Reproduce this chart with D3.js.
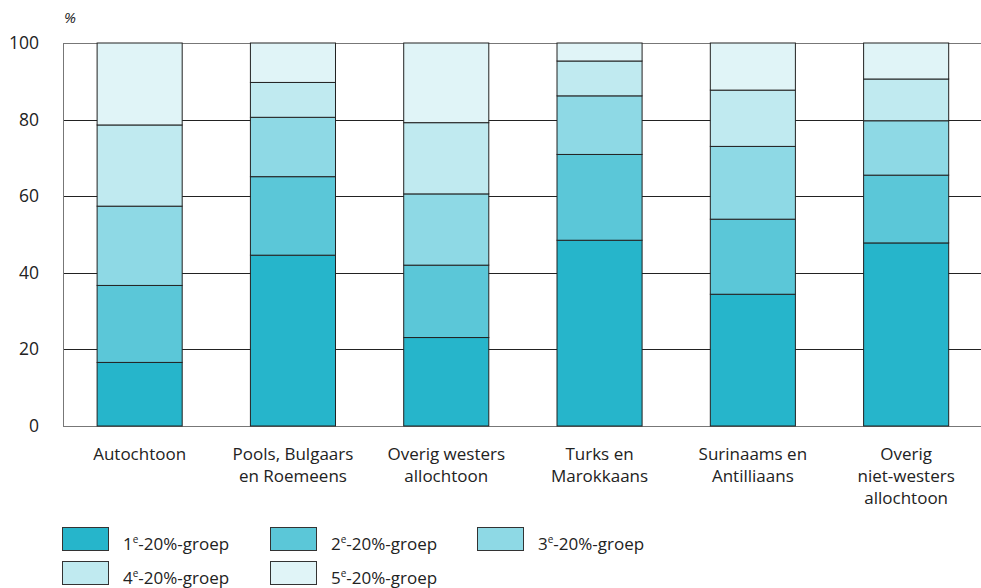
<!DOCTYPE html>
<html>
<head>
<meta charset="utf-8">
<script src="https://cdn.jsdelivr.net/npm/d3@7"></script>
<style>
  body { margin: 0; background: #fff; }
  text { font-family: "Open Sans", "Noto Sans", sans-serif; fill: #222; }
</style>
</head>
<body>
<div id="chart"></div>
<script>
// categories (lines of each label)
var categories = [
  ["Autochtoon"],
  ["Pools, Bulgaars", "en Roemeens"],
  ["Overig westers", "allochtoon"],
  ["Turks en", "Marokkaans"],
  ["Surinaams en", "Antilliaans"],
  ["Overig", "niet-westers", "allochtoon"]
];

// share per income group (%)
var groep1 = [16.6, 44.6, 23.1, 48.5, 34.4, 47.8];
var groep2 = [20.1, 20.5, 18.9, 22.4, 19.6, 17.7];
var groep3 = [20.7, 15.5, 18.6, 15.3, 19.0, 14.2];
var groep4 = [21.2, 9.1, 18.6, 9.1, 14.7, 10.9];
var groep5 = [21.4, 10.3, 20.8, 4.7, 12.3, 9.4];

var seriesNames = ["1", "2", "3", "4", "5"];
var colors = ["#26b5cb", "#5bc7d8", "#8ed9e5", "#c0eaf0", "#e0f4f7"];
var yTicks = [0, 20, 40, 60, 80, 100];

var width = 981, height = 588;
var margin = { left: 63, top: 43, bottom: 162 };
var plotBottom = height - margin.bottom; // 426

var svg = d3.select("#chart").append("svg")
  .attr("width", width)
  .attr("height", height);

// table for the stack
var rows = categories.map(function (c, i) {
  return { i: i, g1: groep1[i], g2: groep2[i], g3: groep3[i], g4: groep4[i], g5: groep5[i] };
});
var keys = ["g1", "g2", "g3", "g4", "g5"];
var stacked = d3.stack().keys(keys)(rows);

var x = d3.scaleBand()
  .domain(d3.range(categories.length))
  .range([margin.left, margin.left + 153.3 * categories.length])
  .paddingInner(0.445)
  .paddingOuter(0.2225);

var y = d3.scaleLinear()
  .domain([0, 100])
  .range([plotBottom, margin.top]);

// gridlines
svg.append("g").selectAll("line")
  .data(yTicks)
  .enter().append("line")
  .attr("x1", margin.left)
  .attr("x2", width)
  .attr("y1", function (d) { return Math.round(y(d)) + 0.5; })
  .attr("y2", function (d) { return Math.round(y(d)) + 0.5; })
  .attr("stroke", function (d) { return (d === 0 || d === 100) ? "#777" : "#222"; })
  .attr("stroke-width", 1);

// left axis line
svg.append("line")
  .attr("x1", margin.left + 0.5).attr("x2", margin.left + 0.5)
  .attr("y1", y(100)).attr("y2", y(0))
  .attr("stroke", "#777");

// tick labels
svg.append("g").selectAll("text")
  .data(yTicks)
  .enter().append("text")
  .attr("x", 39)
  .attr("y", function (d) { return y(d) + 6; })
  .attr("text-anchor", "end")
  .style("font-size", "17.5px")
  .text(function (d) { return d; });

svg.append("text")
  .attr("x", 64).attr("y", 23)
  .style("font-size", "15px")
  .style("font-style", "italic")
  .text("%");

// bars
svg.append("g").selectAll("g")
  .data(stacked)
  .enter().append("g")
  .attr("fill", function (d, k) { return colors[k]; })
  .selectAll("rect")
  .data(function (d) { return d; })
  .enter().append("rect")
  .attr("x", function (d) { return x(d.data.i); })
  .attr("y", function (d) { return y(d[1]); })
  .attr("width", x.bandwidth())
  .attr("height", function (d) { return y(d[0]) - y(d[1]); })
  .attr("stroke", "#222")
  .attr("stroke-width", 1);

// category labels
var catG = svg.append("g").selectAll("text")
  .data(categories)
  .enter().append("text")
  .attr("text-anchor", "middle")
  .style("font-size", "17px")
  .attr("x", function (d, i) { return x(i) + x.bandwidth() / 2; })
  .attr("y", 460);
catG.selectAll("tspan")
  .data(function (d) { return d; })
  .enter().append("tspan")
  .attr("x", function () { return d3.select(this.parentNode).attr("x"); })
  .attr("dy", function (d, j) { return j === 0 ? 0 : 22; })
  .text(function (d) { return d; });

// legend
var legendPos = [[62, 527], [270, 527], [477, 527], [62, 561], [270, 561]];
var leg = svg.append("g").selectAll("g")
  .data(seriesNames)
  .enter().append("g")
  .attr("transform", function (d, k) { return "translate(" + legendPos[k][0] + "," + legendPos[k][1] + ")"; });
leg.append("rect")
  .attr("x", 0.5).attr("y", 0.5)
  .attr("width", 46).attr("height", 23)
  .attr("fill", function (d, k) { return colors[k]; })
  .attr("stroke", "#333");
var lt = leg.append("text")
  .attr("x", 61).attr("y", 23)
  .style("font-size", "17px");
lt.append("tspan").text(function (d) { return d; });
lt.append("tspan").attr("dy", -7).style("font-size", "10px").text("e");
lt.append("tspan").attr("dy", 7).text("-20%-groep");
</script>
</body>
</html>
